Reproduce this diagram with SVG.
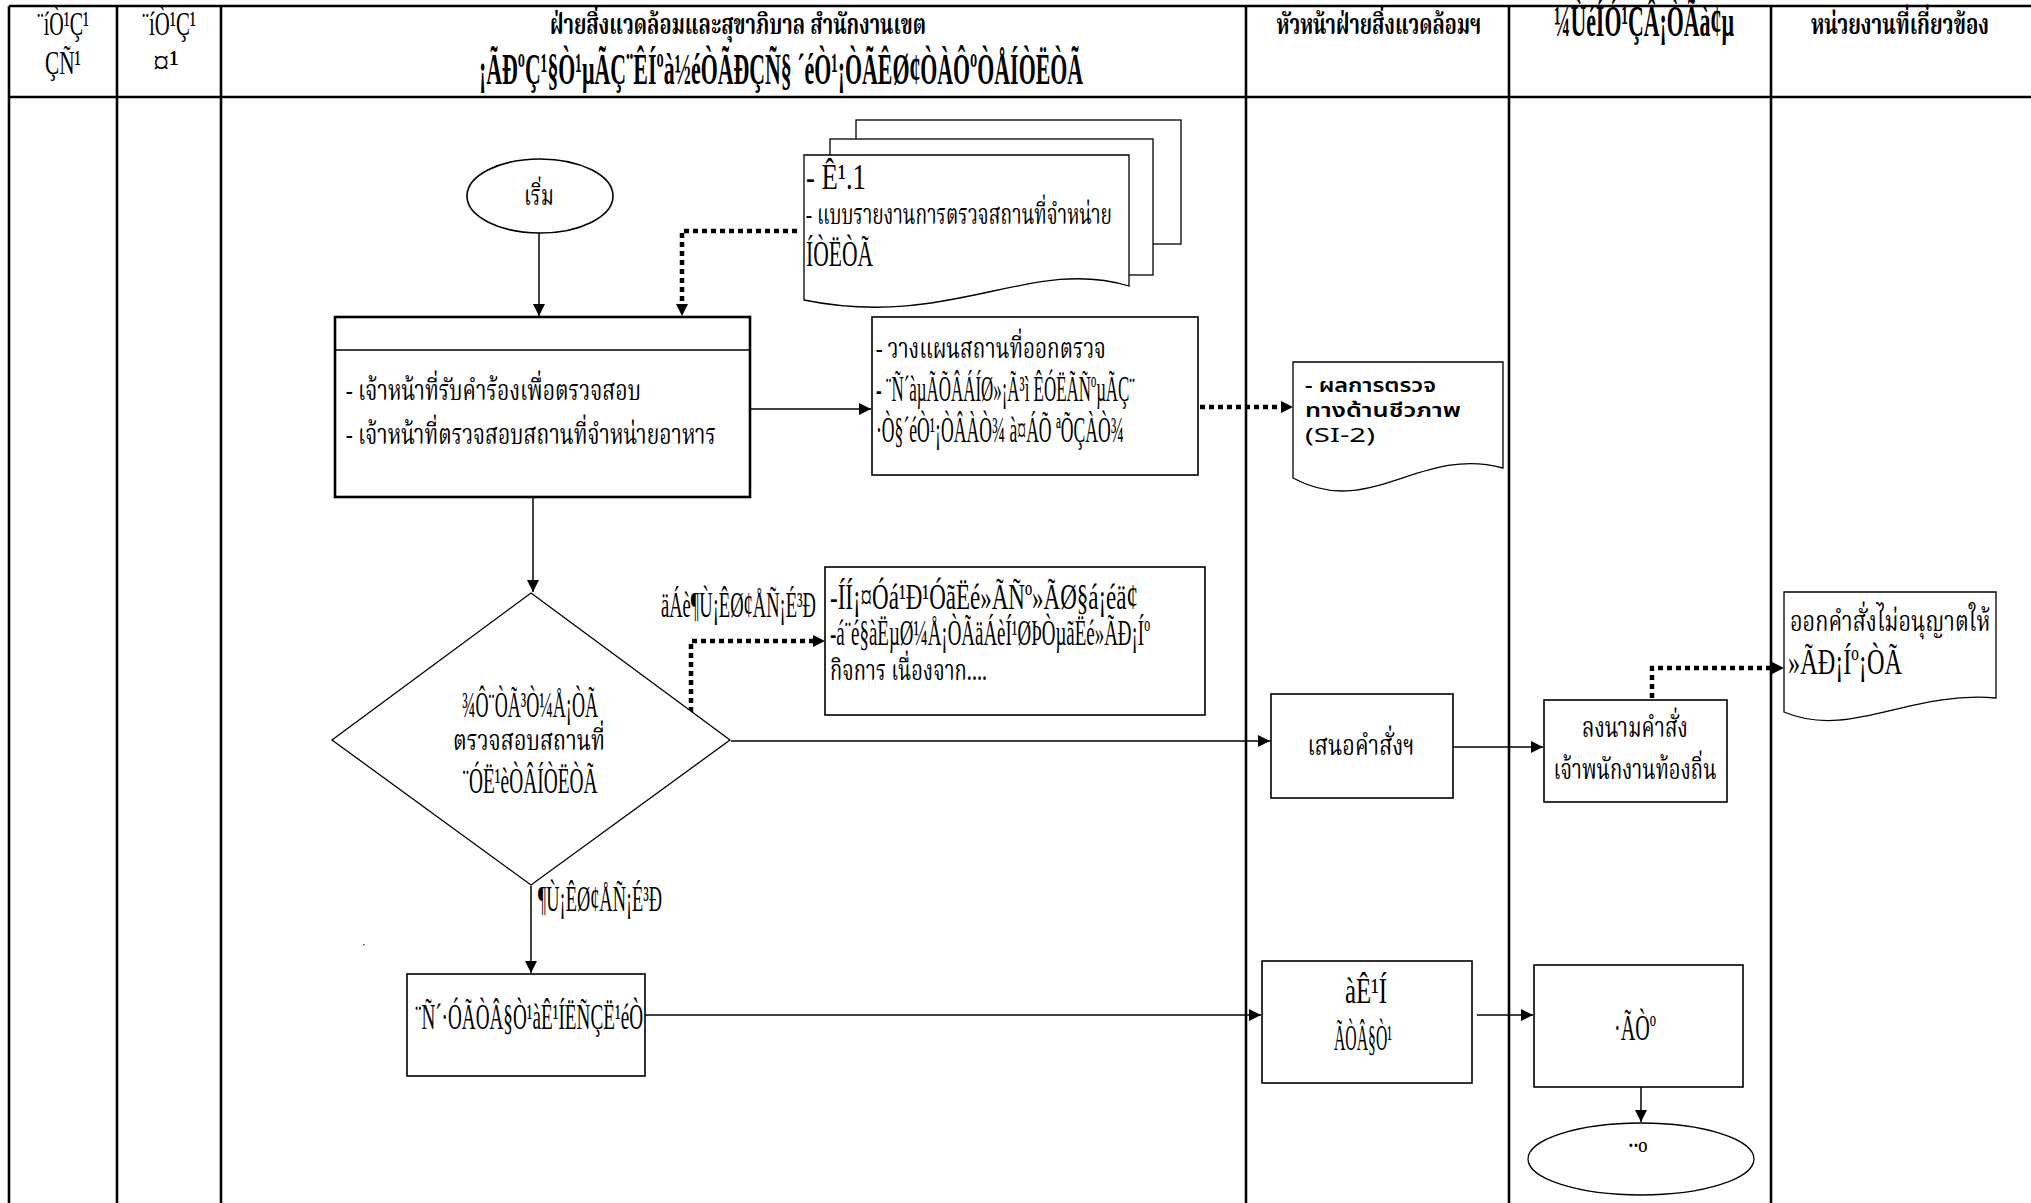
<svg xmlns="http://www.w3.org/2000/svg" width="2031" height="1203" viewBox="0 0 2031 1203">
  <style>
    .grid { stroke: #000; stroke-width: 2.6; fill: none; }
    .box { fill: #fff; stroke: #000; stroke-width: 1.6; }
    .boxb { fill: #fff; stroke: #000; stroke-width: 2.6; }
    .thin { fill: #fff; stroke: #000; stroke-width: 1.3; }
    .flow { stroke: #000; stroke-width: 1.5; fill: none; }
    .dot { stroke: #000; stroke-width: 4.5; stroke-dasharray: 5 4; fill: none; }
    .m { font-family: "Liberation Serif", "DejaVu Serif", serif; font-size: 36px; fill: #000; }
    .mh { font-family: "Liberation Serif", "DejaVu Serif", serif; font-size: 34px; fill: #000; }
    .mb { font-family: "Liberation Serif", "DejaVu Serif", serif; font-size: 44px; font-weight: bold; fill: #000; }
    .t { font-family: "Noto Serif Thai", "Noto Sans Thai", "Noto Sans", "DejaVu Sans", sans-serif; font-size: 28px; fill: #000; }
    .tb { font-family: "Noto Serif Thai", "Noto Sans Thai", "Noto Sans", "DejaVu Sans", sans-serif; font-size: 28px; font-weight: bold; fill: #000; }
    .ts { font-family: "Noto Sans Thai", "Noto Sans", "DejaVu Sans", sans-serif; font-size: 19px; fill: #000; }
    .c { text-anchor: middle; }
  </style>
  <defs>
    <marker id="a" viewBox="0 0 12 12" refX="12" refY="6" markerWidth="13" markerHeight="12" markerUnits="userSpaceOnUse" orient="auto">
      <path d="M0,0 L12,6 L0,12 Z" fill="#000"/>
    </marker>
  </defs>

  <rect width="2031" height="1203" fill="#fff"/>

  <!-- swimlane table -->
  <g id="table">
    <line class="grid" x1="9" y1="6" x2="2031" y2="6"/>
    <line class="grid" x1="9" y1="97" x2="2031" y2="97"/>
    <line class="grid" x1="9" y1="6" x2="9" y2="1203"/>
    <line class="grid" x1="117" y1="6" x2="117" y2="1203"/>
    <line class="grid" x1="221" y1="6" x2="221" y2="1203"/>
    <line class="grid" x1="1246" y1="6" x2="1246" y2="1203"/>
    <line class="grid" x1="1509" y1="6" x2="1509" y2="1203"/>
    <line class="grid" x1="1771" y1="6" x2="1771" y2="1203"/>

    <text class="mh c" x="63" y="35" textLength="52" lengthAdjust="spacingAndGlyphs">¨íÒ¹Ç¹</text>
    <text class="mh c" x="63" y="74" textLength="36" lengthAdjust="spacingAndGlyphs">ÇÑ¹</text>
    <text class="mh c" x="169" y="35" textLength="54" lengthAdjust="spacingAndGlyphs">¨íÒ¹Ç¹</text>
    <text class="mh c" x="166" y="74" textLength="26" lengthAdjust="spacingAndGlyphs">¤¹</text>

    <text class="tb c" x="738" y="34" textLength="376" lengthAdjust="spacingAndGlyphs">ฝ่ายสิ่งแวดล้อมและสุขาภิบาล  สำนักงานเขต</text>
    <text class="mb c" x="781" y="84" textLength="604" lengthAdjust="spacingAndGlyphs">¡ÃÐºÇ¹§Ò¹µÃÇ¨ÊÍºà½éÒÃÐÇÑ§ ´éÒ¹¡ÒÃÊØ¢ÒÀÔºÒÅÍÒËÒÃ</text>
    <text class="tb c" x="1379" y="34" textLength="205" lengthAdjust="spacingAndGlyphs">หัวหน้าฝ่ายสิ่งแวดล้อมฯ</text>
    <text class="mb c" x="1644" y="36" font-size="38" textLength="180" lengthAdjust="spacingAndGlyphs">¼ÙéÍÓ¹ÇÂ¡ÒÃà¢µ</text>
    <text class="tb c" x="1900" y="34" textLength="178" lengthAdjust="spacingAndGlyphs">หน่วยงานที่เกี่ยวข้อง</text>
  </g>

  <!-- connectors -->
  <g id="connectors">
    <line class="flow" x1="539" y1="233" x2="539" y2="316" marker-end="url(#a)"/>
    <path class="dot" d="M797,231 H682 V304"/>
    <path d="M676,304 L688,304 L682,316 Z" fill="#000"/>
    <line class="flow" x1="750" y1="409" x2="871" y2="409" marker-end="url(#a)"/>
    <path class="dot" d="M1200,407 H1281"/>
    <path d="M1281,401 L1293,407 L1281,413 Z" fill="#000"/>
    <line class="flow" x1="533" y1="497" x2="533" y2="592" marker-end="url(#a)"/>
    <path class="dot" d="M691,712 V641 H813"/>
    <path d="M813,635 L825,641 L813,647 Z" fill="#000"/>
    <line class="flow" x1="731" y1="741" x2="1270" y2="741" marker-end="url(#a)"/>
    <line class="flow" x1="1453" y1="747" x2="1543" y2="747" marker-end="url(#a)"/>
    <path class="dot" d="M1652,698 V668 H1772"/>
    <path d="M1772,662 L1784,668 L1772,674 Z" fill="#000"/>
    <line class="flow" x1="531" y1="886" x2="531" y2="973" marker-end="url(#a)"/>
    <line class="flow" x1="645" y1="1015" x2="1261" y2="1015" marker-end="url(#a)"/>
    <line class="flow" x1="1477" y1="1015" x2="1533" y2="1015" marker-end="url(#a)"/>
    <line class="flow" x1="1641" y1="1087" x2="1641" y2="1122" marker-end="url(#a)"/>
  </g>

  <!-- start -->
  <g id="start">
    <ellipse class="box" cx="540" cy="196" rx="73" ry="37"/>
    <text class="t c" x="539" y="205" textLength="30" lengthAdjust="spacingAndGlyphs">เริ่ม</text>
  </g>

  <!-- stacked documents -->
  <g id="docs-forms">
    <rect class="thin" x="856" y="120" width="325" height="124"/>
    <rect class="thin" x="830" y="139" width="323" height="136"/>
    <path class="thin" d="M804,155 H1129 V286 C1030,256 950,330 804,300 Z"/>
    <text class="m" x="806" y="189" textLength="60" lengthAdjust="spacingAndGlyphs">- Ê¹.1</text>
    <text class="t" x="806" y="224" textLength="306" lengthAdjust="spacingAndGlyphs">- แบบรายงานการตรวจสถานที่จำหน่าย</text>
    <text class="m" x="806" y="266" textLength="67" lengthAdjust="spacingAndGlyphs">ÍÒËÒÃ</text>
  </g>

  <!-- officers receive request -->
  <g id="receive">
    <rect class="boxb" x="335" y="317" width="415" height="180"/>
    <line stroke="#000" stroke-width="1.6" x1="335" y1="350" x2="750" y2="350"/>
    <text class="t" x="346" y="400" textLength="295" lengthAdjust="spacingAndGlyphs">- เจ้าหน้าที่รับคำร้องเพื่อตรวจสอบ</text>
    <text class="t" x="346" y="444" textLength="370" lengthAdjust="spacingAndGlyphs">- เจ้าหน้าที่ตรวจสอบสถานที่จำหน่ายอาหาร</text>
  </g>

  <!-- plan inspection -->
  <g id="plan">
    <rect class="box" x="872" y="317" width="326" height="158"/>
    <text class="t" x="876" y="358" textLength="230" lengthAdjust="spacingAndGlyphs">- วางแผนสถานที่ออกตรวจ</text>
    <text class="m" x="876" y="401" textLength="259" lengthAdjust="spacingAndGlyphs">- ¨Ñ´àµÃÕÂÁÍØ»¡Ã³ì ÊÓËÃÑºµÃÇ¨</text>
    <text class="m" x="876" y="442" textLength="248" lengthAdjust="spacingAndGlyphs">·Ò§´éÒ¹¡ÒÂÀÒ¾ à¤ÁÕ ªÕÇÀÒ¾</text>
  </g>

  <!-- biological result document -->
  <g id="doc-si2">
    <path class="thin" d="M1293,362 H1503 V468 C1420,445 1370,520 1293,478 Z"/>
    <text class="ts" x="1305" y="392" font-weight="600" textLength="131" lengthAdjust="spacingAndGlyphs">- ผลการตรวจ</text>
    <text class="ts" x="1305" y="417" font-weight="600" textLength="156" lengthAdjust="spacingAndGlyphs">ทางด้านชีวภาพ</text>
    <text class="ts" x="1305" y="442" textLength="70" lengthAdjust="spacingAndGlyphs">(SI-2)</text>
  </g>

  <!-- decision -->
  <g id="decision">
    <polygon class="thin" points="531,593 730,740 531,885 332,740"/>
    <text class="m c" x="530" y="717" textLength="136" lengthAdjust="spacingAndGlyphs">¾Ô¨ÒÃ³Ò¼Å¡ÒÃ</text>
    <text class="t c" x="529" y="750" textLength="152" lengthAdjust="spacingAndGlyphs">ตรวจสอบสถานที่</text>
    <text class="m c" x="530" y="793" textLength="135" lengthAdjust="spacingAndGlyphs">¨ÓË¹èÒÂÍÒËÒÃ</text>
    <text class="m" x="661" y="617" textLength="155" lengthAdjust="spacingAndGlyphs">äÁè¶Ù¡ÊØ¢ÅÑ¡É³Ð</text>
    <text class="m" x="538" y="911" textLength="124" lengthAdjust="spacingAndGlyphs">¶Ù¡ÊØ¢ÅÑ¡É³Ð</text>
  </g>

  <!-- advice / refusal -->
  <g id="advice">
    <rect class="box" x="825" y="567" width="380" height="148"/>
    <text class="m" x="830" y="609" textLength="308" lengthAdjust="spacingAndGlyphs">-ÍÍ¡¤Óá¹Ð¹ÓãËé»ÃÑº»ÃØ§á¡éä¢</text>
    <text class="m" x="830" y="645" textLength="320" lengthAdjust="spacingAndGlyphs">-á¨é§àËµØ¼Å¡ÒÃäÁèÍ¹ØÞÒµãËé»ÃÐ¡Íº</text>
    <text class="t" x="830" y="680" textLength="157" lengthAdjust="spacingAndGlyphs">กิจการ เนื่องจาก....</text>
  </g>

  <!-- propose order -->
  <g id="propose">
    <rect class="box" x="1271" y="694" width="182" height="104"/>
    <text class="t c" x="1361" y="755" textLength="107" lengthAdjust="spacingAndGlyphs">เสนอคำสั่งฯ</text>
  </g>

  <!-- sign order -->
  <g id="sign">
    <rect class="box" x="1544" y="700" width="183" height="102"/>
    <text class="t c" x="1635" y="737" textLength="106" lengthAdjust="spacingAndGlyphs">ลงนามคำสั่ง</text>
    <text class="t c" x="1635" y="779" textLength="163" lengthAdjust="spacingAndGlyphs">เจ้าพนักงานท้องถิ่น</text>
  </g>

  <!-- refusal order document -->
  <g id="doc-order">
    <path class="thin" d="M1784,592 H1996 V698 C1910,690 1850,740 1784,712 Z"/>
    <text class="t" x="1790" y="631" textLength="200" lengthAdjust="spacingAndGlyphs">ออกคำสั่งไม่อนุญาตให้</text>
    <text class="m" x="1788" y="674" textLength="114" lengthAdjust="spacingAndGlyphs">»ÃÐ¡Íº¡ÒÃ</text>
  </g>

  <!-- report -->
  <g id="report">
    <rect class="box" x="407" y="974" width="238" height="102"/>
    <text class="m" x="415" y="1029" textLength="228" lengthAdjust="spacingAndGlyphs">¨Ñ´·ÓÃÒÂ§Ò¹àÊ¹ÍËÑÇË¹éÒ</text>
    <rect x="363" y="944" width="1.5" height="1.5" fill="#555"/>
  </g>

  <!-- head forwards report -->
  <g id="forward">
    <rect class="box" x="1262" y="961" width="210" height="122"/>
    <text class="m c" x="1366" y="1003" textLength="42" lengthAdjust="spacingAndGlyphs">àÊ¹Í</text>
    <text class="m c" x="1363" y="1050" textLength="58" lengthAdjust="spacingAndGlyphs">ÃÒÂ§Ò¹</text>
  </g>

  <!-- acknowledge -->
  <g id="acknowledge">
    <rect class="box" x="1534" y="965" width="209" height="122"/>
    <text class="m c" x="1635" y="1040" textLength="42" lengthAdjust="spacingAndGlyphs">·ÃÒº</text>
  </g>

  <!-- end -->
  <g id="end">
    <ellipse class="thin" cx="1641" cy="1159" rx="113" ry="36"/>
    <text class="m c" x="1638" y="1166" font-size="22" textLength="19" lengthAdjust="spacingAndGlyphs">¨º</text>
  </g>
</svg>
